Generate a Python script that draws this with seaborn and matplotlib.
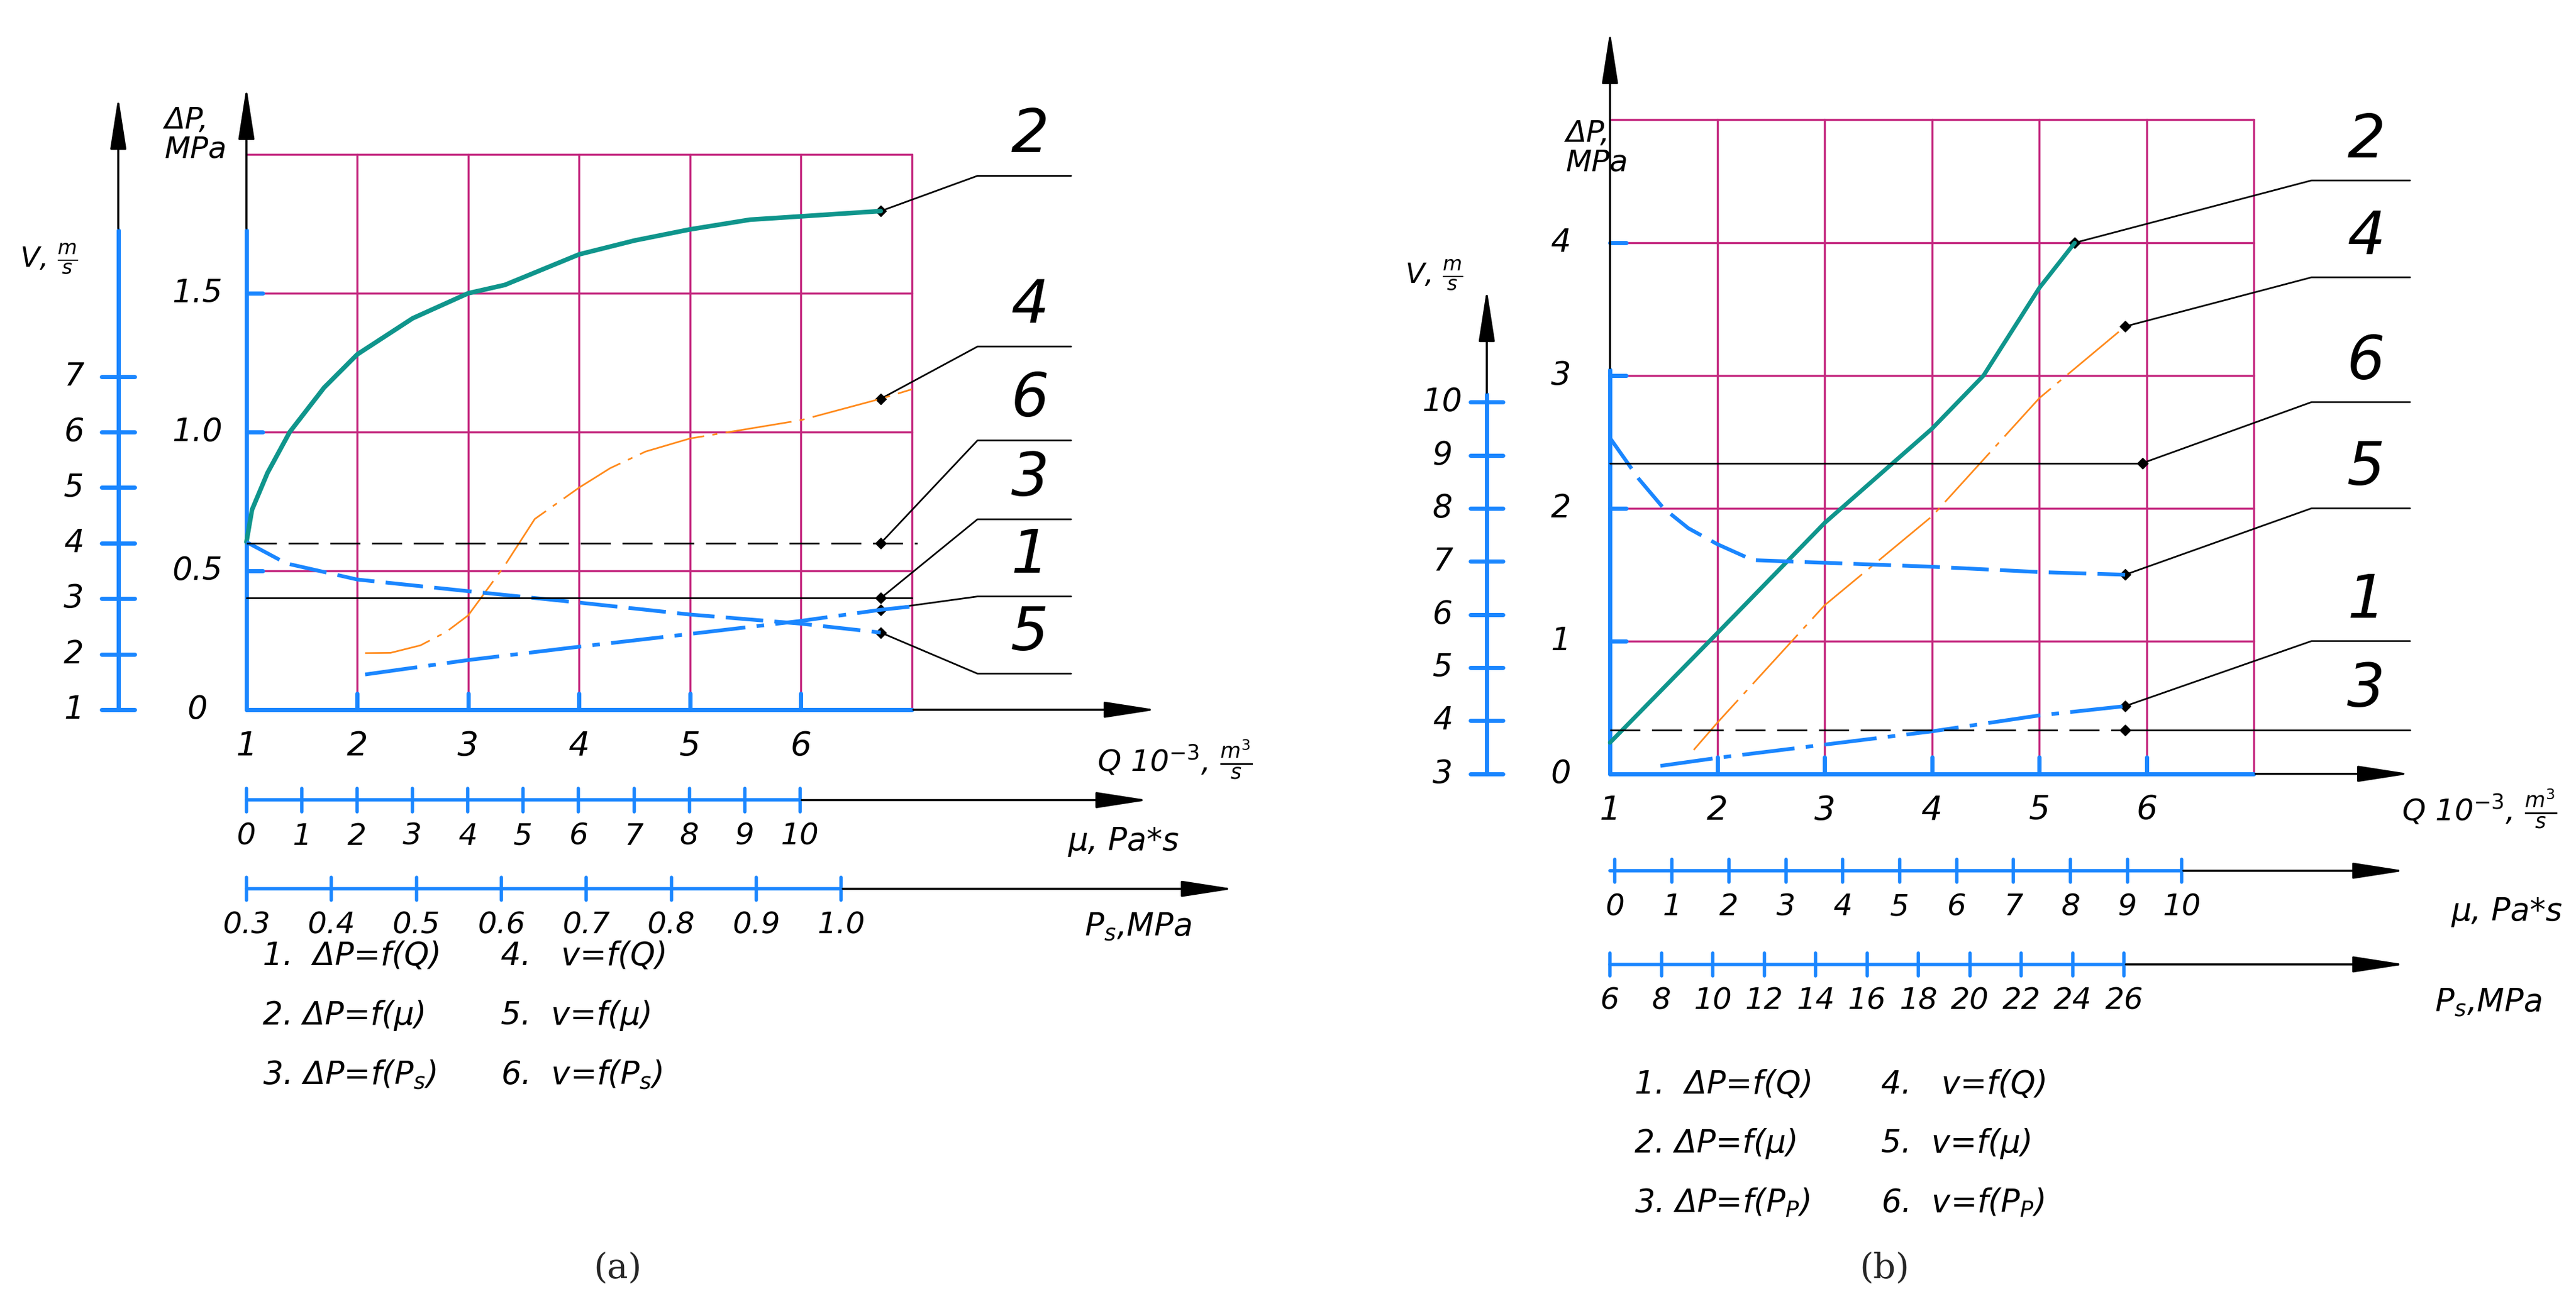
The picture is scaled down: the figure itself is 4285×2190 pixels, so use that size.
import numpy as np
import pandas as pd
import matplotlib
matplotlib.use('Agg')
import matplotlib.pyplot as plt
import seaborn as sns

# ---------------- data (panel a) ----------------
a_q2 = [1, 1.05, 1.19, 1.39, 1.7, 2, 2.5, 3, 3.33, 4, 4.5, 5, 5.54, 6, 6.72]
a_dp2 = [0.604, 0.72, 0.853, 1.0, 1.16, 1.28, 1.41, 1.5, 1.53, 1.64, 1.69, 1.73, 1.765, 1.777, 1.796]
a_q4 = [2.07, 2.3, 2.57, 2.8, 3, 3.33, 3.6, 4, 4.28, 4.6, 5, 6, 6.72, 7]
a_dp4 = [0.204, 0.205, 0.232, 0.28, 0.34, 0.52, 0.687, 0.80, 0.87, 0.93, 0.977, 1.043, 1.12, 1.154]
a_q5 = [1, 1.36, 2, 3, 4, 5, 6, 6.72]
a_dp5 = [0.604, 0.527, 0.469, 0.427, 0.386, 0.343, 0.31, 0.278]
a_q1 = [2.07, 3, 4, 5, 6, 6.72, 7]
a_dp1 = [0.127, 0.179, 0.227, 0.273, 0.32, 0.36, 0.372]
a_dp6 = 0.6
a_dp3 = 0.402
a_v_ticks = [1, 2, 3, 4, 5, 6, 7]
a_dp_ticks = [0.5, 1.0, 1.5]
a_dp_labels = ['0.5', '1.0', '1.5']
a_mu_labels = ['0', '1', '2', '3', '4', '5', '6', '7', '8', '9', '10']
a_ps_labels = ['0.3', '0.4', '0.5', '0.6', '0.7', '0.8', '0.9', '1.0']
a_marks = {'2': (6.72, 1.796, 1.923), '4': (6.72, 1.12, 1.308), '6': (6.72, 0.6, 0.970),
           '3': (6.72, 0.402, 0.686), '1': (6.72, 0.36, 0.408), '5': (6.72, 0.278, 0.130)}

# ---------------- data (panel b) ----------------
b_q2 = [1, 2, 3, 4, 4.48, 5, 5.33]
b_dp2 = [0.235, 1.06, 1.89, 2.6, 3.0, 3.66, 4.0]
b_q4 = [1.78, 2, 3, 4, 5, 5.8]
b_dp4 = [0.18, 0.385, 1.27, 1.94, 2.83, 3.37]
b_q5 = [1, 1.27, 1.5, 1.73, 2, 2.33, 3, 4, 5, 5.8]
b_dp5 = [2.53, 2.22, 2.0, 1.85, 1.73, 1.61, 1.59, 1.56, 1.52, 1.50]
b_q1 = [1.47, 2, 3, 4, 5, 5.8]
b_dp1 = [0.06, 0.12, 0.22, 0.32, 0.44, 0.51]
b_dp6 = 2.34
b_dp3 = 0.33
b_v_ticks = [3, 4, 5, 6, 7, 8, 9, 10]
b_dp_ticks = [1, 2, 3, 4]
b_mu_labels = ['0', '1', '2', '3', '4', '5', '6', '7', '8', '9', '10']
b_ps_labels = ['6', '8', '10', '12', '14', '16', '18', '20', '22', '24', '26']
b_marks = {'2': (5.33, 4.0, 4.47), '4': (5.8, 3.37, 3.74), '6': (5.96, 2.34, 2.80),
           '5': (5.8, 1.50, 2.0), '1': (5.8, 0.51, 1.0), '3': (5.8, 0.33, 0.33)}

q_labels = ['1', '2', '3', '4', '5', '6']

sns.set_theme(style='white')
plt.rcParams['font.family'] = ['DejaVu Sans']
plt.rcParams['mathtext.fontset'] = 'dejavusans'

BLUE = '#1a86ff'
TEAL = '#0f958c'
ORANGE = '#ff8a1c'
GRID = '#c4287f'

fig = plt.figure(figsize=(42.85, 21.9), dpi=100)
W, H = 1568.0, 801.0  # reference display units


def make_axes(x0, x1, px_q1, px_per_q, py0, py_per_dp):
    ax = fig.add_axes([x0 / W, 0, (x1 - x0) / W, 1])
    ax.set_xlim(1 + (x0 - px_q1) / px_per_q, 1 + (x1 - px_q1) / px_per_q)
    ax.set_ylim((py0 - H) / py_per_dp, py0 / py_per_dp)
    ax.axis('off')
    fx = lambda px: 1 + (px - px_q1) / px_per_q
    fy = lambda py: (py0 - py) / py_per_dp
    return ax, fx, fy


IT = dict(style='italic', color='black')


def curve(ax, xs, ys, color, lw, ls):
    df = pd.DataFrame({'x': xs, 'y': ys})
    sns.lineplot(data=df, x='x', y='y', ax=ax, color=color, linewidth=lw,
                 linestyle=ls, sort=False, estimator=None)
    ax.set_xlabel('')
    ax.set_ylabel('')


def arrow(ax, x0, y0, x1, y1):
    ax.annotate('', xy=(x1, y1), xytext=(x0, y0),
                arrowprops=dict(arrowstyle='-|>,head_length=4.5,head_width=0.7',
                                color='black', lw=2.5))


def panel(ax, fx, fy, cfg):
    qmax, dptop = cfg['qmax'], cfg['dptop']
    # grid
    for q in range(2, qmax + 1):
        ax.plot([q, q], [0, dptop], color=GRID, lw=2.5)
    for d in cfg['dp_grid']:
        ax.plot([1, qmax], [d, d], color=GRID, lw=2.5)
    # main axes
    ax.plot([1, 1], [0, fy(cfg['blue_top'])], color=BLUE, lw=5)
    arrow(ax, 1, fy(cfg['blue_top']), 1, fy(cfg['dp_arrow']))
    ax.plot([1, qmax], [0, 0], color=BLUE, lw=5)
    arrow(ax, qmax, 0, fx(cfg['x_arrow']), 0)
    for q in range(2, 7):
        ax.plot([q, q], [0, fy(cfg['py0'] - 10)], color=BLUE, lw=5)
    # Q labels
    for i, t in enumerate(q_labels):
        ax.text(1 + i, fy(cfg['py0'] + 22), t, ha='center', va='center', fontsize=40, **IT)
    ax.text(fx(cfg['qlab'][0]), fy(cfg['qlab'][1]), r'Q 10$^{-3}$, $\frac{m^3}{s}$',
            ha='left', va='center', fontsize=36, **IT)
    # DP ticks
    for d, t in zip(cfg['dp_ticks'], cfg['dp_tlabels']):
        ax.plot([1, fx(cfg['px_q1'] + 10)], [d, d], color=BLUE, lw=5)
        ax.text(fx(cfg['px_q1'] - 30), d, t, ha='center', va='center', fontsize=38, **IT)
    ax.text(fx(cfg['px_q1'] - 30), 0, '0', ha='center', va='center', fontsize=38, **IT)
    ax.text(fx(cfg['dplab'][0]), fy(cfg['dplab'][1]), 'ΔP,\nMPa', ha='left', va='center',
            fontsize=36, linespacing=1.0, **IT)
    # v axis
    vx = fx(cfg['vx'])
    vt = cfg['v_ticks']
    vdp = [cfg['v2dp'](v) for v in vt]
    ax.plot([vx, vx], [vdp[0], fy(cfg['v_blue_top'])], color=BLUE, lw=5)
    arrow(ax, vx, fy(cfg['v_blue_top']), vx, fy(cfg['v_arrow']))
    for v, d in zip(vt, vdp):
        ax.plot([fx(cfg['vx'] - 10), fx(cfg['vx'] + 10)], [d, d], color=BLUE, lw=5)
        ax.text(fx(cfg['vx'] - 27), d, str(v), ha='center', va='center', fontsize=38, **IT)
    ax.text(fx(cfg['vlab'][0]), fy(cfg['vlab'][1]), r'V, $\frac{m}{s}$', ha='left',
            va='center', fontsize=34, **IT)
    # mu and Ps scales
    for key, labels, title in (('mu', cfg['mu_labels'], 'μ, Pa*s'),
                               ('ps', cfg['ps_labels'], r'P$_s$,MPa')):
        y, xs, blue_end, arr_end, ttl = cfg[key]
        yy = fy(y)
        ax.plot([1, fx(blue_end)], [yy, yy], color=BLUE, lw=4)
        arrow(ax, fx(blue_end), yy, fx(arr_end), yy)
        for px, t in zip(xs, labels):
            ax.plot([fx(px), fx(px)], [fy(y - 7), fy(y + 7)], color=BLUE, lw=4)
            ax.text(fx(px), fy(y + 22), t, ha='center', va='center', fontsize=36, **IT)
        ax.text(fx(ttl[0]), fy(ttl[1]), title, ha='left', va='center', fontsize=38, **IT)
    # leaders and number labels
    lx0, lx1 = fx(cfg['lead'][0]), fx(cfg['lead'][1])
    for lab, (q, d, ly) in cfg['marks'].items():
        ax.plot([q, lx0, lx1], [d, ly, ly], color='black', lw=2)
        ax.plot([q], [d], marker='D', color='black', ms=9)
        ax.text((lx0 + lx1) / 2 + 0.05, ly + cfg['lab_dy'], lab, ha='center', va='bottom',
                fontsize=72, **IT)
    # legend
    (lxl, lxr), ly = cfg['legend']
    for i in range(3):
        ax.text(fx(lxl), fy(ly + i * 36), cfg['leg_left'][i], ha='left', va='center',
                fontsize=38, **IT)
        ax.text(fx(lxr), fy(ly + i * 36), cfg['leg_right'][i], ha='left', va='center',
                fontsize=38, **IT)
    ax.text(fx(cfg['sub'][0]), fy(cfg['sub'][1]), cfg['sub'][2], ha='center', va='center',
            fontsize=42, family='DejaVu Serif')


# ---------- panel (a) ----------
axa, fxa, fya = make_axes(0, 784, 150, 67.5, 432, 169)
cfg_a = dict(qmax=7, dptop=2.0, dp_grid=[0.5, 1.0, 1.5, 2.0], blue_top=140, dp_arrow=52,
             x_arrow=705, py0=432, px_q1=150, qlab=(668, 462),
             dp_ticks=a_dp_ticks, dp_tlabels=a_dp_labels, dplab=(100, 82),
             vx=72, v_ticks=a_v_ticks, v2dp=lambda v: (v - 1) * 0.2, v_blue_top=140,
             v_arrow=58, vlab=(12, 158), mu_labels=a_mu_labels, ps_labels=a_ps_labels,
             mu=(487, np.linspace(150, 487, 11), 487, 700, (650, 512)),
             ps=(541, np.linspace(150, 512, 8), 512, 752, (660, 564)),
             lead=(595, 652), marks=a_marks, lab_dy=0.04,
             legend=((160, 305), 582),
             leg_left=['1.  ΔP=f(Q)', '2. ΔP=f(μ)', r'3. ΔP=f(P$_s$)'],
             leg_right=['4.   v=f(Q)', '5.  v=f(μ)', r'6.  v=f(P$_s$)'],
             sub=(376, 772, '(a)'))
panel(axa, fxa, fya, cfg_a)
curve(axa, a_q2, a_dp2, TEAL, 5.5, '-')
curve(axa, a_q4, a_dp4, ORANGE, 2, (0, (40, 5, 3, 5)))
curve(axa, a_q5, a_dp5, BLUE, 4.5, (0, (10, 3)))
curve(axa, a_q1, a_dp1, BLUE, 4.5, (0, (14, 3, 2, 3)))
axa.plot([1, 7.05], [a_dp6, a_dp6], color='black', lw=2, linestyle=(0, (18, 7)))
axa.plot([1, 7], [a_dp3, a_dp3], color='black', lw=2)

# ---------- panel (b) ----------
axb, fxb, fyb = make_axes(784, 1568, 980, 65.33, 471, 80.8)
cfg_b = dict(qmax=7, dptop=4.93, dp_grid=[1, 2, 3, 4, 4.93], blue_top=225, dp_arrow=18,
             x_arrow=1468, py0=471, px_q1=980, qlab=(1462, 492),
             dp_ticks=b_dp_ticks, dp_tlabels=[str(t) for t in b_dp_ticks], dplab=(953, 90),
             vx=905, v_ticks=b_v_ticks, v2dp=lambda v: (v - 3) * 0.4, v_blue_top=240,
             v_arrow=175, vlab=(855, 168), mu_labels=b_mu_labels, ps_labels=b_ps_labels,
             mu=(530, list(np.linspace(983, 1295, 10)) + [1328], 1328, 1465, (1492, 555)),
             ps=(587, np.linspace(980, 1293, 11), 1293, 1465, (1482, 610)),
             lead=(1407, 1467), marks=b_marks, lab_dy=0.08,
             legend=((995, 1145), 660),
             leg_left=['1.  ΔP=f(Q)', '2. ΔP=f(μ)', r'3. ΔP=f(P$_P$)'],
             leg_right=['4.   v=f(Q)', '5.  v=f(μ)', r'6.  v=f(P$_P$)'],
             sub=(1147, 772, '(b)'))
panel(axb, fxb, fyb, cfg_b)
curve(axb, b_q2, b_dp2, TEAL, 5, '-')
curve(axb, b_q4, b_dp4, ORANGE, 2, (0, (40, 5, 3, 5)))
curve(axb, b_q5, b_dp5, BLUE, 4.5, (0, (10, 3)))
curve(axb, b_q1, b_dp1, BLUE, 4.5, (0, (14, 3, 2, 3)))
axb.plot([1, 6.0], [b_dp6, b_dp6], color='black', lw=2)
axb.plot([1, 5.8], [b_dp3, b_dp3], color='black', lw=2, linestyle=(0, (18, 7)))

fig.savefig('out.png', dpi=100)
